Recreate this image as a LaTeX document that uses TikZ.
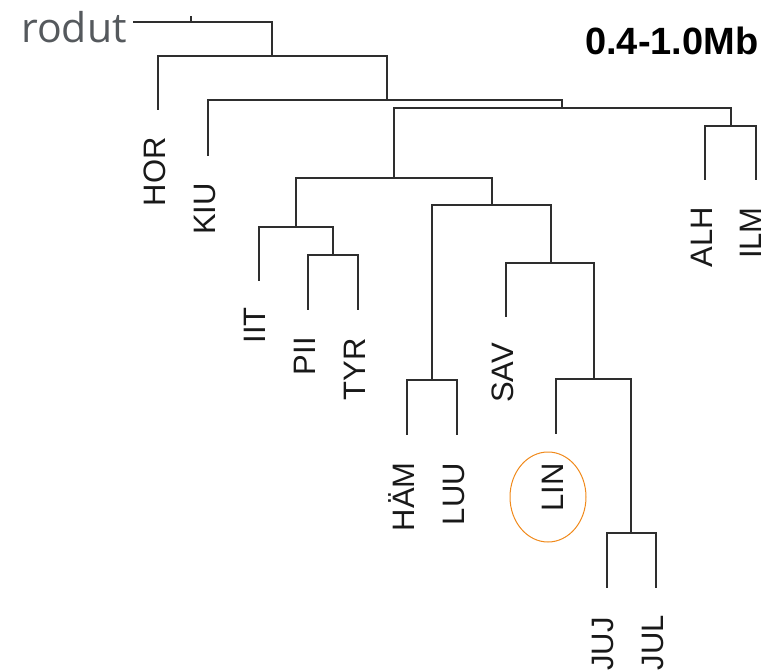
\documentclass[tikz,border=0pt]{standalone}
\usepackage{fontspec}
\setmainfont{Liberation Sans}
\newfontfamily\opensans{Open Sans}
\usetikzlibrary{shapes.geometric}
\definecolor{linec}{HTML}{2E2E2E}
\definecolor{rodc}{HTML}{55595D}
\definecolor{markc}{HTML}{F08A1C}
\begin{document}
\begin{tikzpicture}[x=1pt,y=-1pt,
  tree/.style={line width=2.2pt, draw=linec, line cap=butt},
  lbl/.style={rotate=90, anchor=base east, inner sep=0pt, text=black!90,
    font=\fontsize{31}{31}\selectfont}]
\useasboundingbox (0,0) rectangle (774,671);
\clip (0,0) rectangle (774,671);
% title texts
\node[anchor=base west, inner sep=0pt, text=rodc, font=\opensans\fontsize{41}{41}\selectfont] (rod) at (21,43) {rodut};
\node[anchor=base west, inner sep=0pt, font=\bfseries\fontsize{38}{38}\selectfont] (title) at (585,55) {0.4-1.0Mb};
% internal nodes
\coordinate (root) at (272,22);
\coordinate (rs) at (133,22);
\coordinate (tk) at (191,22);
\coordinate (n1) at (272,56);
\coordinate (n2) at (387,100);
\coordinate (n3) at (562,108);
\coordinate (n4) at (731,126);
\coordinate (n5) at (394,178);
\coordinate (n6) at (296,227);
\coordinate (n7) at (333,255);
\coordinate (n8) at (492,205);
\coordinate (n9) at (432,380);
\coordinate (n10) at (551,263);
\coordinate (n11) at (594,379);
\coordinate (n12) at (631,533);
% leaves
\coordinate (HOR) at (158,110);
\coordinate (KIU) at (208,156);
\coordinate (ALH) at (705,180);
\coordinate (ILM) at (756,180);
\coordinate (IIT) at (259,281);
\coordinate (PII) at (308,310);
\coordinate (TYR) at (358,310);
\coordinate (HAM) at (407,435);
\coordinate (LUU) at (457,435);
\coordinate (SAV) at (506,317);
\coordinate (LIN) at (556,434);
\coordinate (JUJ) at (607,588);
\coordinate (JUL) at (656,588);
% edges
\draw[tree] (rs) -- (root) -- (n1);
\draw[tree, line width=2.2pt] (tk) -- ++(0,-6);
\draw[tree] (n1) -| (HOR);
\draw[tree] (n1) -| (n2);
\draw[tree] (n2) -| (KIU);
\draw[tree] (n2) -| (n3);
\draw[tree] (n3) -| (n5);
\draw[tree] (n3) -| (n4);
\draw[tree] (n4) -| (ALH);
\draw[tree] (n4) -| (ILM);
\draw[tree] (n5) -| (n6);
\draw[tree] (n5) -| (n8);
\draw[tree] (n6) -| (IIT);
\draw[tree] (n6) -| (n7);
\draw[tree] (n7) -| (PII);
\draw[tree] (n7) -| (TYR);
\draw[tree] (n8) -| (n9);
\draw[tree] (n8) -| (n10);
\draw[tree] (n9) -| (HAM);
\draw[tree] (n9) -| (LUU);
\draw[tree] (n10) -| (SAV);
\draw[tree] (n10) -| (n11);
\draw[tree] (n11) -| (LIN);
\draw[tree] (n11) -| (n12);
\draw[tree] (n12) -| (JUJ);
\draw[tree] (n12) -| (JUL);
% labels
\node[lbl] (lHOR) at ([shift={(7,27)}]HOR) {HOR};
\node[lbl] (lKIU) at ([shift={(7,27)}]KIU) {KIU};
\node[lbl] (lALH) at ([shift={(7,27)}]ALH) {ALH};
\node[lbl] (lILM) at ([shift={(5,27)}]ILM) {ILM};
\node[lbl] (lIIT) at ([shift={(6,26)}]IIT) {IIT};
\node[lbl] (lPII) at ([shift={(7,27)}]PII) {PII};
\node[lbl] (lTYR) at ([shift={(7,28)}]TYR) {TYR};
\node[lbl] (lHAM) at ([shift={(7,27)}]HAM) {HÄM};
\node[lbl] (lLUU) at ([shift={(7,28)}]LUU) {LUU};
\node[lbl] (lSAV) at ([shift={(7,26)}]SAV) {SAV};
\node[lbl] (lLIN) at ([shift={(7,29)}]LIN) {LIN};
\node[lbl] (lJUJ) at ([shift={(6,29)}]JUJ) {JUJ};
\node[lbl] (lJUL) at ([shift={(7,27)}]JUL) {JUL};
% highlight
\node[draw=markc, line width=1pt, ellipse, minimum width=76pt, minimum height=90pt, inner sep=0pt] (mark) at (548,497) {};
\end{tikzpicture}
\end{document}
